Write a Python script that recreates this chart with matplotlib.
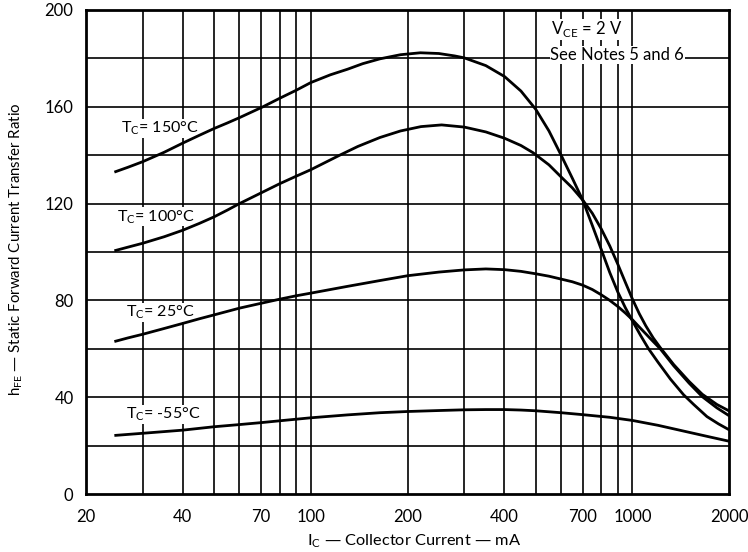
"""hFE vs collector current at four case temperatures"""
import matplotlib
matplotlib.use('Agg')
import matplotlib.pyplot as plt

plt.rcParams['font.family'] = ['Lato', 'DejaVu Sans']

# (mA, hFE)
ic_150 = [24.5, 27, 30, 35, 40, 45, 50, 55, 60, 71, 80, 90, 100, 115, 130, 145,
          164, 190, 219, 250, 280, 300, 350, 400, 450, 500, 550, 600, 650, 700,
          750, 800, 850, 900, 950, 1000, 1060, 1122, 1200, 1312, 1442, 1550, 1704,
          1850, 2000]
hfe_150 = [133, 135, 137.3, 141.2, 145, 148.2, 151, 153.3, 155.5, 160, 163.5,
           166.8, 170, 173.2, 175.5, 177.8, 179.8, 181.5, 182.3, 182, 181, 180.2,
           177, 172.5, 166.5, 159, 150, 140, 130.5, 121.5, 111, 101, 91.5, 83.5,
           77, 71.5, 65.5, 60, 54.5, 47.5, 41, 37, 32, 29, 26.5]

ic_100 = [24.5, 27, 30, 35, 40, 45, 50, 55, 60, 70, 80, 90, 100, 123, 140, 164,
          190, 220, 255, 300, 350, 400, 450, 491, 550, 600, 650, 700, 750, 800,
          850, 900, 950, 1000, 1050, 1100, 1160, 1220, 1343, 1500, 1649, 1830, 2000]
hfe_100 = [100.5, 102, 103.6, 106.3, 109, 111.8, 114.5, 117.3, 120, 124.4, 128.2,
           131.3, 134, 140, 143.6, 147.3, 150, 151.8, 152.5, 151.6, 149.6, 147,
           144, 141, 136, 131, 126.5, 121.5, 116, 109.5, 102.5, 95, 87.5, 80.5,
           74.5, 69.5, 64.5, 60.5, 53.5, 46.5, 41.2, 37, 34.3]

ic_25 = [24.5, 27, 30, 35, 40, 45, 50, 60, 70, 80, 90, 100, 130, 164, 200, 250,
         300, 350, 400, 450, 500, 550, 600, 650, 700, 750, 800, 850, 900, 950,
         1000, 1050, 1100, 1160, 1220, 1343, 1500, 1649, 1830, 2000]
hfe_25 = [63, 64.5, 66, 68.4, 70.5, 72.4, 74, 76.8, 78.8, 80.5, 81.9, 83, 85.8,
          88.2, 90.2, 91.7, 92.6, 93, 92.7, 92, 91, 90, 88.8, 87.7, 86.3, 84.5,
          82.3, 80, 77.5, 74.8, 72, 69, 66.2, 63, 60, 53, 45.8, 40.2, 35.6, 32.3]

ic_m55 = [24.5, 30, 40, 50, 60, 70, 85, 100, 130, 164, 200, 250, 300, 350, 400,
          450, 500, 600, 700, 850, 1000, 1200, 1500, 1750, 2000]
hfe_m55 = [24.2, 25.1, 26.4, 27.8, 28.7, 29.5, 30.6, 31.5, 32.7, 33.6, 34.1, 34.5,
           34.8, 34.9, 34.9, 34.7, 34.4, 33.6, 32.8, 31.7, 30.4, 28.4, 25.5, 23.5,
           21.8]

curve_labels = [r'T$_\mathregular{C}$= 150°C', r'T$_\mathregular{C}$= 100°C',
                r'T$_\mathregular{C}$= 25°C', r'T$_\mathregular{C}$= -55°C']
label_pos = [(25.6, 151), (25.0, 114.5), (26.6, 75), (26.6, 33)]

x_ticks = [20, 40, 70, 100, 200, 400, 700, 1000, 2000]
y_ticks = [0, 40, 80, 120, 160, 200]
x_grid = [30, 40, 50, 60, 70, 80, 90, 100, 200, 300, 400, 500, 600, 700, 800, 900, 1000]
y_grid = [20, 40, 60, 80, 100, 120, 140, 160, 180]

fig = plt.figure(figsize=(7.48, 5.52), dpi=100)
ax = fig.add_axes([0.115, 0.105, 0.86, 0.877])
ax.set_xscale('log')
ax.set_xlim(20, 2000)
ax.set_ylim(0, 200)

for g in x_grid:
    ax.axvline(g, color='black', lw=1.2, zorder=1)
for g in y_grid:
    ax.axhline(g, color='black', lw=1.2, zorder=1)

for xs, ys in [(ic_150, hfe_150), (ic_100, hfe_100), (ic_25, hfe_25), (ic_m55, hfe_m55)]:
    ax.plot(xs, ys, color='black', lw=2.0, zorder=3, solid_capstyle='butt')

# curve labels sit on white patches over the grid, under the curves
for txt, (lx, ly) in zip(curve_labels, label_pos):
    ax.text(lx, ly, txt, fontsize=11.5, ha='left', va='center', zorder=2,
            bbox=dict(facecolor='white', edgecolor='none', pad=0.5))

ax.text(560, 192, r'V$_\mathregular{CE}$ = 2 V', fontsize=12, ha='left', va='center',
        zorder=4, bbox=dict(facecolor='white', edgecolor='none', pad=0.5))
ax.text(555, 181.4, 'See Notes 5 and 6', fontsize=12, ha='left', va='center',
        zorder=4, bbox=dict(facecolor='white', edgecolor='none', pad=0.5))

ax.set_xticks(x_ticks)
ax.set_xticklabels([str(t) for t in x_ticks])
ax.minorticks_off()
ax.set_yticks(y_ticks)
ax.tick_params(length=0, labelsize=12)
ax.tick_params(axis='x', pad=11)
ax.tick_params(axis='y', pad=9)
for s in ax.spines.values():
    s.set_linewidth(2)

fig.text(0.553, 0.02, r'I$_\mathregular{C}$ — Collector Current — mA', fontsize=11.8,
         ha='center', va='center')
fig.text(0.022, 0.548, r'h$_\mathregular{FE}$ — Static Forward Current Transfer Ratio',
         fontsize=10.8, ha='center', va='center', rotation=90)

fig.savefig('out.png', dpi=100)
